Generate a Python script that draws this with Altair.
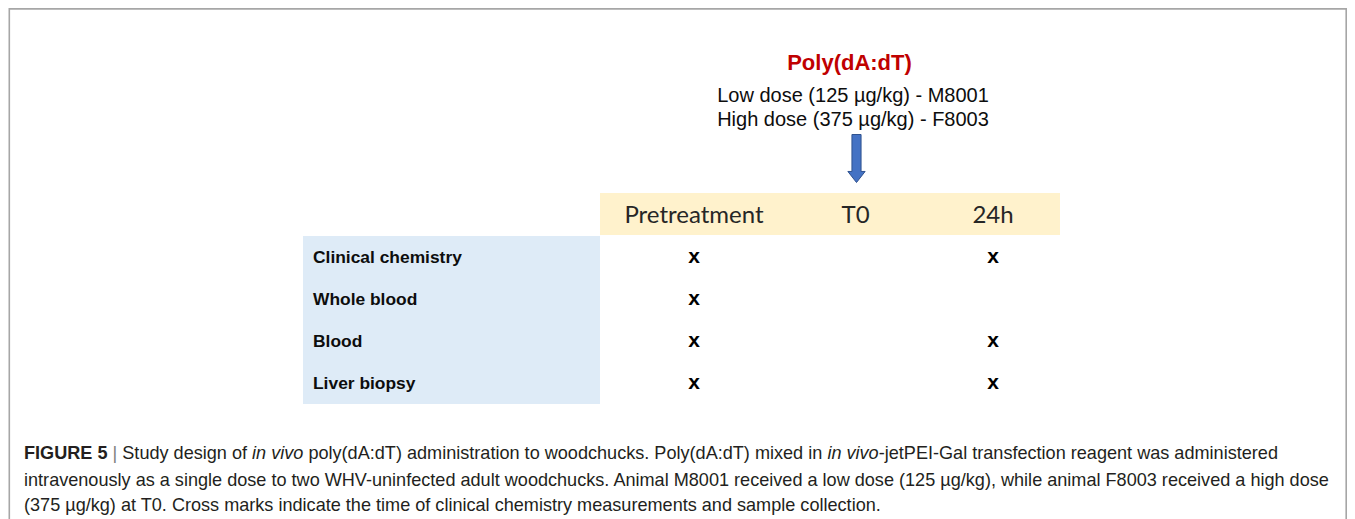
import altair as alt
import pandas as pd

# ---------------- data ----------------
rows = ["Clinical chemistry", "Whole blood", "Blood", "Liver biopsy"]
timepoints = ["Pretreatment", "T0", "24h"]
mark_rows = ["Clinical chemistry", "Clinical chemistry", "Whole blood",
             "Blood", "Blood", "Liver biopsy", "Liver biopsy"]
mark_times = ["Pretreatment", "24h", "Pretreatment",
              "Pretreatment", "24h", "Pretreatment", "24h"]
treatment = ["Poly(dA:dT)"]
treatment_time = ["T0"]
dose_lines = ["Low dose (125 \u00b5g/kg) - M8001", "High dose (375 \u00b5g/kg) - F8003"]

caption_line1 = ["FIGURE 5", "|", "Study design of", "in vivo",
                 "poly(dA:dT) administration to woodchucks. Poly(dA:dT) mixed in",
                 "in vivo", "-jetPEI-Gal transfection reagent was administered"]
caption_line1_style = ["bold", "sep", "normal", "italic", "normal", "italic", "normal"]
caption_line2 = ("intravenously as a single dose to two WHV-uninfected adult woodchucks. "
                 "Animal M8001 received a low dose (125 \u00b5g/kg), while animal F8003 "
                 "received a high dose")
caption_line3 = ("(375 \u00b5g/kg) at T0. Cross marks indicate the time of clinical chemistry "
                 "measurements and sample collection.")

# ---------------- layout (styling only) ----------------
W, H = 1339, 511
SANS = "Liberation Sans, Arial, Helvetica, sans-serif"
HEAD = "Lato, Open Sans, sans-serif"
CAP_COLOR = "#231f20"
CAP_SIZE = 18.1
cap_x1 = [16, 104.5, 114.3, 244.1, 300.4, 819.4, 870.7]
cap_base = [451, 478, 502.5]

df_rows = pd.DataFrame({"row": rows})
df_times = pd.DataFrame({"time": timepoints})
df_marks = pd.DataFrame({"row": mark_rows, "time": mark_times})
df_treat = pd.DataFrame({"time": treatment_time, "label": treatment})
one = pd.DataFrame({"k": [0]})

xs = alt.Scale(type="point", domain=timepoints, range=[686, 985], padding=0)
ys = alt.Scale(type="band", domain=rows, range=[228, 396], paddingInner=0, paddingOuter=0)

layers = []

# outer frame
layers.append(alt.Chart(one).mark_rect(fillOpacity=0, stroke="#a6a6a6", strokeWidth=1.6).encode(
    x=alt.value(1.3), x2=alt.value(1338.2), y=alt.value(0.9), y2=alt.value(900)))

# header band
layers.append(alt.Chart(one).mark_rect(color="#fff2cc").encode(
    x=alt.value(592), x2=alt.value(1052), y=alt.value(185), y2=alt.value(227)))

# row label cells
layers.append(alt.Chart(df_rows).mark_rect(color="#deebf7").encode(
    y=alt.Y("row:N", scale=ys, axis=None), x=alt.value(295), x2=alt.value(592)))

# row labels
layers.append(alt.Chart(df_rows).mark_text(
    align="left", baseline="alphabetic", dy=6, font=SANS, fontWeight="bold",
    fontSize=17.4, color="#0d0d0d").encode(
    y=alt.Y("row:N", scale=ys, axis=None), x=alt.value(305), text="row:N"))

# column headers
layers.append(alt.Chart(df_times).transform_filter(alt.datum.time != "T0").mark_text(
    align="center", baseline="alphabetic", font=HEAD, fontSize=24, color="#262626").encode(
    x=alt.X("time:N", scale=xs, axis=None), y=alt.value(214.7), text="time:N"))
layers.append(alt.Chart(df_times).transform_filter(alt.datum.time == "T0").mark_text(
    align="center", baseline="alphabetic", font=HEAD, fontSize=24, color="#262626",
    xOffset=12).encode(
    x=alt.X("time:N", scale=xs, axis=None), y=alt.value(214.7), text="time:N"))

# cross marks
layers.append(alt.Chart(df_marks).mark_text(
    align="center", baseline="alphabetic", dy=6, font=SANS, fontWeight="bold",
    fontSize=21, color="#000000").encode(
    x=alt.X("time:N", scale=xs, axis=None), y=alt.Y("row:N", scale=ys, axis=None),
    text=alt.value("x")))

# arrow at administration time
arrow = "M-0.19,-1L0.19,-1L0.19,0.54L0.36,0.54L0,1L-0.36,0.54L-0.19,0.54Z"
layers.append(alt.Chart(df_treat).mark_point(
    shape=arrow, size=2304, filled=True, fill="#4472c4", stroke="#2f528f",
    strokeWidth=1, opacity=1, xOffset=13).encode(
    x=alt.X("time:N", scale=xs, axis=None), y=alt.value(150.5)))

# treatment title and doses
layers.append(alt.Chart(df_treat).mark_text(
    align="center", baseline="alphabetic", font=SANS, fontWeight="bold",
    fontSize=22, color="#c00000").encode(
    x=alt.value(841.5), y=alt.value(62), text="label:N"))
layers.append(alt.Chart(one).mark_text(
    align="center", baseline="alphabetic", font=SANS, fontSize=20,
    color="#0d0d0d", lineHeight=24).encode(
    x=alt.value(845), y=alt.value(94), text=alt.value(dose_lines)))

# caption
for seg, sty, xx in zip(caption_line1, caption_line1_style, cap_x1):
    kw = dict(align="left", baseline="alphabetic", font=SANS, fontSize=CAP_SIZE, color=CAP_COLOR)
    if sty == "bold":
        kw["fontWeight"] = "bold"
    if sty == "italic":
        kw["fontStyle"] = "italic"
    if sty == "sep":
        kw["color"] = "#808080"
    layers.append(alt.Chart(one).mark_text(**kw).encode(
        x=alt.value(xx), y=alt.value(cap_base[0]), text=alt.value(seg)))
for txt, yy in [(caption_line2, cap_base[1]), (caption_line3, cap_base[2])]:
    layers.append(alt.Chart(one).mark_text(
        align="left", baseline="alphabetic", font=SANS, fontSize=CAP_SIZE, color=CAP_COLOR).encode(
        x=alt.value(16), y=alt.value(yy), text=alt.value(txt)))

chart = alt.layer(*layers).properties(
    width=W, height=H, padding=0, background="white",
    autosize=alt.AutoSizeParams(type="none")
).configure_view(stroke=None)

chart.save("out.html", embed_options={"renderer": "svg", "actions": False})
